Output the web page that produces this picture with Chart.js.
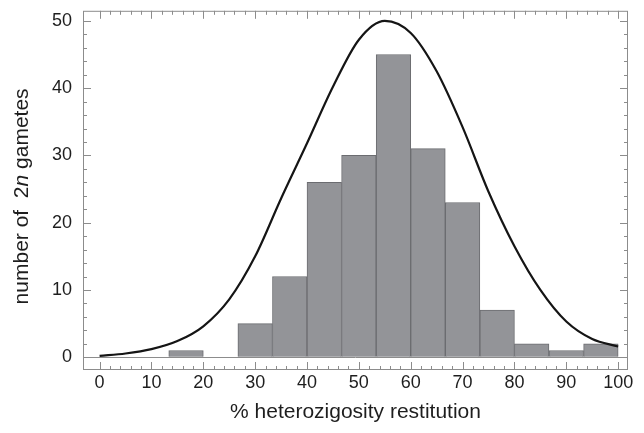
<!DOCTYPE html>
<html>
<head>
<meta charset="utf-8">
<script src="https://cdn.jsdelivr.net/npm/chart.js@4.4.0/dist/chart.umd.min.js"></script>
<style>
  html, body { margin: 0; padding: 0; background: #fff; }
  #wrap { width: 644px; height: 433px; }
</style>
</head>
<body>
<div id="wrap"><canvas id="myChart"></canvas></div>
<script>
// histogram bins (width 100/15) and counts
const binCenters = [3.33, 10, 16.67, 23.33, 30, 36.67, 43.33, 50, 56.67, 63.33, 70, 76.67, 83.33, 90, 96.67];
const binCounts = [0, 0, 1, 0, 5, 12, 26, 30, 45, 31, 23, 7, 2, 1, 2];

// fitted curve
const curveX = [0, 5, 10, 15, 20, 25, 30, 35, 40, 45, 50, 55, 60, 65, 70, 75, 80, 85, 90, 95, 100];
const curveY = [0.2, 0.55, 1.2, 2.4, 4.6, 8.6, 15.0, 23.6, 31.8, 40.2, 47.2, 50.0, 48.2, 42.5, 34.2, 24.6, 16.5, 10.0, 5.3, 2.7, 1.6];

const xTicks = [0, 10, 20, 30, 40, 50, 60, 70, 80, 90, 100];
const yTicks = [0, 10, 20, 30, 40, 50];

const xTitle = "% heterozigosity restitution";
const yTitleParts = [["number of  2", false], ["n", true], [" gametes", false]];

const FONT = '"Liberation Sans", Arial, sans-serif';
const TEXT = "#1e1e1e";
const FRAME = "#8c8c8c";
const TITLE_SIZE = 21;

const framePlugin = {
  id: "frame",
  afterDraw(chart) {
    const { ctx, chartArea: a, scales } = chart;
    const x = scales.x, y = scales.y;
    ctx.save();
    ctx.strokeStyle = FRAME;
    ctx.lineWidth = 1;
    ctx.strokeRect(a.left + 0.5, a.top + 0.5, a.right - a.left - 1, a.bottom - a.top - 1);

    // inward ticks on all four sides
    ctx.beginPath();
    for (let v = 0; v <= 100; v += 2) {
      const px = Math.round(x.getPixelForValue(v)) + 0.5;
      const len = v % 10 === 0 ? 8 : 4;
      ctx.moveTo(px, a.bottom); ctx.lineTo(px, a.bottom - len);
      ctx.moveTo(px, a.top); ctx.lineTo(px, a.top + len);
    }
    for (let v = 0; v <= 50; v += 2) {
      const py = Math.round(y.getPixelForValue(v)) + 0.5;
      const len = v % 10 === 0 ? 8 : 4;
      ctx.moveTo(a.left, py); ctx.lineTo(a.left + len, py);
      ctx.moveTo(a.right, py); ctx.lineTo(a.right - len, py);
    }
    ctx.stroke();

    // axis titles
    ctx.fillStyle = TEXT;
    ctx.font = TITLE_SIZE + "px " + FONT;
    ctx.textAlign = "center";
    ctx.textBaseline = "middle";
    ctx.fillText(xTitle, (a.left + a.right) / 2, 412);

    ctx.translate(22, (a.top + a.bottom) / 2 + 6);
    ctx.rotate(-Math.PI / 2);
    ctx.textAlign = "left";
    let total = 0;
    yTitleParts.forEach(([t, it]) => {
      ctx.font = (it ? "italic " : "") + TITLE_SIZE + "px " + FONT;
      total += ctx.measureText(t).width;
    });
    let cx = -total / 2;
    yTitleParts.forEach(([t, it]) => {
      ctx.font = (it ? "italic " : "") + TITLE_SIZE + "px " + FONT;
      ctx.fillText(t, cx, 0);
      cx += ctx.measureText(t).width;
    });
    ctx.restore();
  },
};

new Chart(document.getElementById("myChart"), {
  type: "bar",
  data: {
    datasets: [
      {
        type: "line",
        data: curveX.map((v, i) => ({ x: v, y: curveY[i] })),
        borderColor: "#151515",
        borderWidth: 2.2,
        pointRadius: 0,
        cubicInterpolationMode: "monotone",
        fill: false,
        order: 0,
      },
      {
        type: "bar",
        data: binCenters.map((v, i) => ({ x: v, y: binCounts[i] })),
        backgroundColor: "#939498",
        borderColor: "#6b6c70",
        borderWidth: 1,
        borderSkipped: "start",
        barPercentage: 1,
        categoryPercentage: 1,
        order: 1,
      },
    ],
  },
  options: {
    responsive: true,
    maintainAspectRatio: false,
    animation: false,
    layout: { padding: { top: 9, right: 16, left: 0, bottom: 0 } },
    plugins: {
      legend: { display: false },
      tooltip: { enabled: false },
    },
    scales: {
      x: {
        type: "linear",
        offset: false,
        min: -3.2,
        max: 101.9,
        afterBuildTicks: (s) => { s.ticks = xTicks.map((v) => ({ value: v })); },
        afterFit: (s) => { s.height = 63; },
        grid: { display: false, drawTicks: true, tickLength: 2 },
        border: { display: false },
        ticks: { color: TEXT, font: { family: FONT, size: 18 }, padding: 0, maxRotation: 0, autoSkip: false },
      },
      y: {
        min: -1.9,
        max: 51.5,
        afterBuildTicks: (s) => { s.ticks = yTicks.map((v) => ({ value: v })); },
        afterFit: (s) => { s.width = 83; },
        grid: {
          drawTicks: true,
          tickLength: 11,
          tickColor: "rgba(0,0,0,0)",
          color: (c) => (c.tick && c.tick.value === 0 ? FRAME : "rgba(0,0,0,0)"),
        },
        border: { display: false },
        ticks: { color: TEXT, font: { family: FONT, size: 18 }, padding: 0 },
      },
    },
  },
  plugins: [framePlugin],
});
</script>
</body>
</html>
